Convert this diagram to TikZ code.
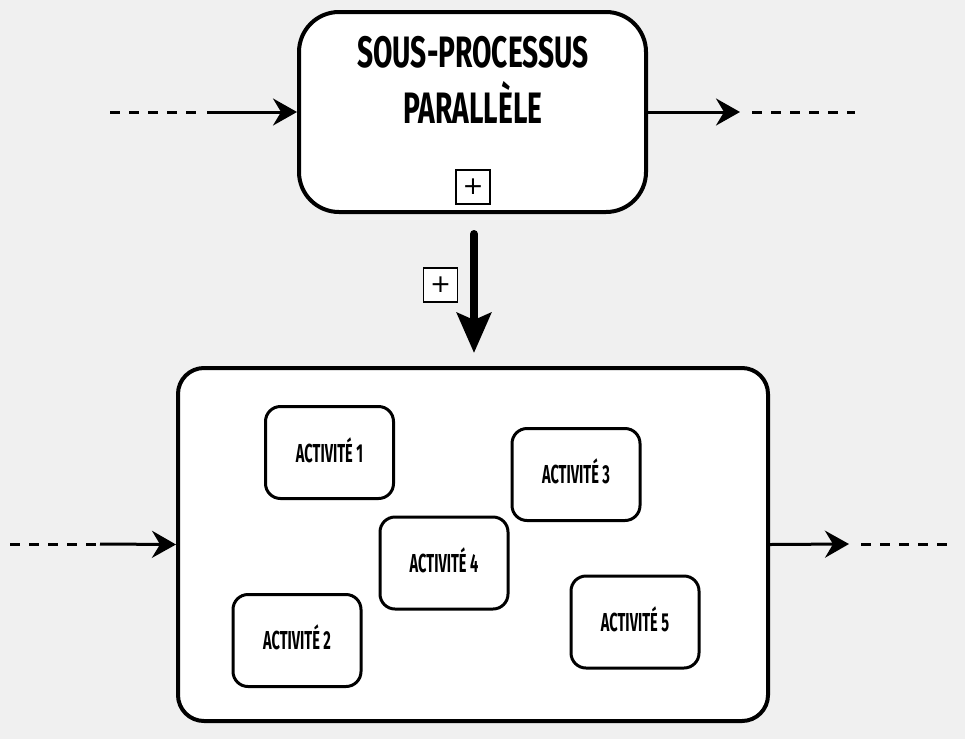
\documentclass[tikz,border=0pt]{standalone}
\usepackage{fontspec}
\newfontfamily\dfont[FakeStretch=0.64]{Fira Sans}
\newfontfamily\afont[FakeStretch=0.56]{Fira Sans}
\newfontfamily\pfont{DejaVu Sans}
\usetikzlibrary{arrows.meta}
\definecolor{bg}{HTML}{F0F0F0}
\tikzset{
  bigbox/.style={draw=black, fill=white, line width=4pt, rounded corners=#1, inner sep=0pt},
  actbox/.style={draw=black, fill=white, line width=3pt, rounded corners=15pt,
    minimum width=128pt, minimum height=92pt, inner sep=0pt},
  acttext/.style={font=\afont\bfseries\fontsize{26}{28}\selectfont, inner sep=0pt},
  plusbox/.style={draw=black, fill=white, line width=1.8pt, minimum size=34pt, inner sep=0pt,
    font=\pfont\fontsize{25}{25}\selectfont},
  flow/.style={line width=3pt, -{Stealth[length=24pt, width=27pt, inset=8pt]}},
  dashline/.style={line width=3pt, dash pattern=on 10pt off 9pt},
  thickflow/.style={line width=8pt, line cap=round, -{Stealth[length=40pt, width=34pt, inset=7pt]}}
}
\begin{document}
\begin{tikzpicture}[x=1pt, y=-1pt]
  \fill[bg] (0,0) rectangle (965,739);
  \useasboundingbox (0,0) rectangle (965,739);

  % top sub-process
  \node[bigbox=40pt, minimum width=347pt, minimum height=200pt] (top) at (472.5,112) {};
  \node[font=\dfont\bfseries\fontsize{44}{56}\selectfont, align=center, inner sep=0pt] (title) at (473,80)
    {SOUS-PROCESSUS\\PARALLÈLE};
  \node[plusbox] (plustop) at (473,187) {+};

  % top flows
  \coordinate (tlA) at (110,112);
  \coordinate (tlB) at (200,112);
  \coordinate (tlC) at (207,112);
  \draw[dashline] (tlA) -- (tlB);
  \draw[flow] (tlC) -- (top.west);
  \coordinate (trB) at (740,112);
  \coordinate (trC) at (752,112);
  \coordinate (trD) at (855,112);
  \draw[flow] (top.east) -- (trB);
  \draw[dashline] (trC) -- (trD);

  % expansion arrow
  \coordinate (expA) at (474,234);
  \coordinate (expB) at (474,353);
  \draw[thickflow] (expA) -- (expB);
  \node[plusbox] (plusmid) at (440.5,285) {+};

  % bottom expanded sub-process
  \node[bigbox=26pt, minimum width=590pt, minimum height=353pt] (bot) at (473,544.5) {};

  \node[actbox] (a1) at (329.5,452.5) {};
  \node[acttext] (t1) at (329.5,450) {ACTIVITÉ 1};
  \node[actbox] (a3) at (576,474.5) {};
  \node[acttext] (t3) at (576,471) {ACTIVITÉ 3};
  \node[actbox] (a4) at (444,563) {};
  \node[acttext] (t4) at (444,560) {ACTIVITÉ 4};
  \node[actbox] (a2) at (297,640.5) {};
  \node[acttext] (t2) at (297,637) {ACTIVITÉ 2};
  \node[actbox] (a5) at (635,622) {};
  \node[acttext] (t5) at (635,619) {ACTIVITÉ 5};

  % bottom flows
  \coordinate (blA) at (10,544);
  \coordinate (blB) at (100,544);
  \draw[dashline] (blA) -- (blB);
  \draw[flow] (blB) -- (bot.west);
  \coordinate (brB) at (849,544);
  \coordinate (brC) at (861,544);
  \coordinate (brD) at (950,544);
  \draw[flow] (bot.east) -- (brB);
  \draw[dashline] (brC) -- (brD);
\end{tikzpicture}
\end{document}
